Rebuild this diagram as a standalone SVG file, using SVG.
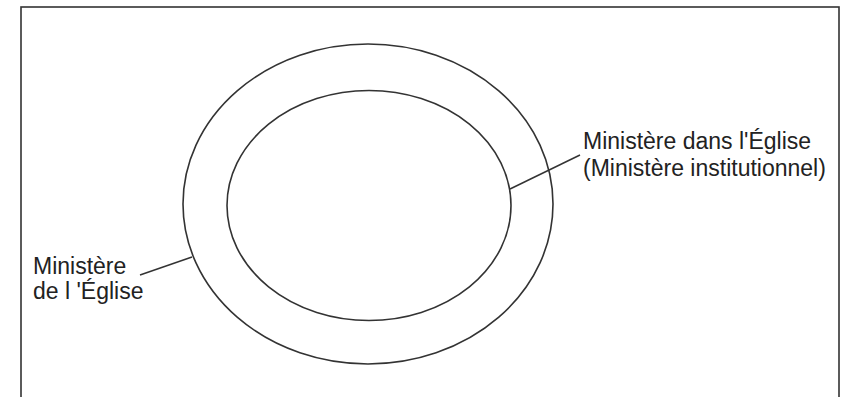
<svg xmlns="http://www.w3.org/2000/svg" width="845" height="397" viewBox="0 0 845 397">
<style>
.frame{fill:none;stroke:#333;stroke-width:1.6}
.ring{fill:none;stroke:#333;stroke-width:1.6}
.conn{fill:none;stroke:#333;stroke-width:1.5}
.lbl{font-family:"Liberation Sans",Arial,sans-serif;font-size:23px;fill:#222}
</style>
<rect width="845" height="397" fill="#fff"/>
<rect class="frame" x="21" y="7" width="818" height="400"/>
<g id="outer">
<ellipse class="ring" cx="368" cy="204" rx="185" ry="160"/>
<text class="lbl" x="33" y="274">Ministère</text>
<text class="lbl" x="33" y="299">de l 'Église</text>
</g>
<g id="inner">
<ellipse class="ring" cx="369" cy="205.5" rx="142" ry="115"/>
<text class="lbl" x="583" y="149">Ministère dans l'Église</text>
<text class="lbl" x="583" y="176">(Ministère institutionnel)</text>
</g>
<g id="connectors">
<line class="conn" x1="140" y1="275" x2="192" y2="257"/>
<line class="conn" x1="510" y1="189" x2="580" y2="155"/>
</g>
</svg>
